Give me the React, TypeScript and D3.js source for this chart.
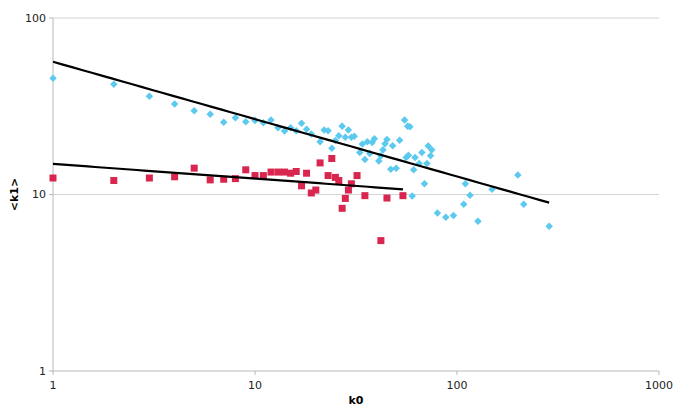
import React from "react";
import * as d3 from "d3";

const W = 685;
const H = 420;

// cyan diamonds: k0, <k1>
const cyanK0 = [1, 2, 3, 4, 5, 6, 7, 8, 9, 10, 11, 12, 13, 14, 15, 16, 17, 18, 19, 21, 22, 23, 24, 25, 26, 27, 28, 29, 30, 31, 33, 34, 35, 36, 37, 38, 39, 41, 42, 43, 44, 45, 47, 48, 50, 52, 55, 56, 57, 57.5, 58.5, 60, 61, 62, 65, 67, 69, 71, 72, 74, 75, 80, 88, 96, 108, 110, 116, 127, 149, 200, 214, 286];
const cyanK1 = [45.5, 42.1, 36.0, 32.6, 29.8, 28.5, 25.7, 27.2, 25.8, 26.3, 25.5, 26.4, 23.9, 22.9, 23.9, 23.0, 25.3, 23.4, 22.0, 19.9, 23.2, 23.0, 18.3, 20.2, 21.5, 24.4, 21.1, 23.2, 21.1, 21.4, 17.3, 19.3, 15.8, 19.9, 17.1, 19.7, 20.7, 15.5, 16.6, 17.9, 19.4, 20.5, 13.9, 18.9, 14.1, 20.3, 26.4, 16.2, 24.4, 16.7, 24.2, 9.8, 13.8, 16.2, 15.0, 17.3, 11.5, 15.0, 18.8, 16.6, 17.9, 7.86, 7.43, 7.6, 8.8, 11.5, 9.9, 7.05, 10.7, 12.9, 8.8, 6.6];

// red squares: k0, <k1>
const redK0 = [1, 2, 3, 4, 5, 6, 7, 8, 9, 10, 11, 12, 13, 14, 15, 16, 17, 18, 19, 20, 21, 23, 24, 25, 26, 27, 28, 29, 30, 32, 35, 42, 45, 54];
const redK1 = [12.4, 12.0, 12.4, 12.6, 14.1, 12.1, 12.2, 12.3, 13.8, 12.8, 12.8, 13.4, 13.4, 13.4, 13.2, 13.5, 11.2, 13.2, 10.2, 10.6, 15.1, 12.8, 16.0, 12.5, 12.0, 8.35, 9.5, 10.6, 11.5, 12.8, 9.85, 5.48, 9.55, 9.85];

// power trend lines: [coefficient, exponent, k0 start, k0 end]
const cyanTrend = [56.5, -0.325, 1, 286];
const redTrend = [14.9, -0.083, 1, 54];

const xTicks = [1, 10, 100, 1000];
const yTicks = [1, 10, 100];

const CYAN = "#5cc9ef";
const RED = "#d8264f";

export default function App() {
  const left = 53, right = 659, top = 18, bottom = 371;
  const x = d3.scaleLog().domain([1, 1000]).range([left, right]);
  const y = d3.scaleLog().domain([1, 100]).range([bottom, top]);
  const font = "DejaVu Sans, Verdana, sans-serif";

  const trendPath = (t: number[]) => {
    const [a, b, x0, x1] = t;
    const pts: [number, number][] = d3.range(0, 51).map((i) => {
      const k = x0 * Math.pow(x1 / x0, i / 50);
      return [x(k), y(a * Math.pow(k, b))];
    });
    return d3.line()(pts) || "";
  };

  const diamond = d3.symbol().type(d3.symbolDiamond2).size(36)() || "";

  return (
    <svg width={W} height={H} style={{ display: "block", position: "absolute", left: 0, top: 0 }} fontFamily={font}>
      <rect x={0} y={0} width={W} height={H} fill="#fff" />
      {yTicks.filter((t) => t !== 1).map((t) => (
        <line key={"g" + t} x1={left} x2={right} y1={y(t)} y2={y(t)} stroke="#d4d4d4" strokeWidth={1} />
      ))}
      <line x1={left} x2={left} y1={top} y2={bottom} stroke="#b8b8b8" strokeWidth={1} />
      <line x1={left} x2={right} y1={bottom} y2={bottom} stroke="#b8b8b8" strokeWidth={1} />
      {yTicks.map((t) => (
        <g key={"y" + t}>
          <line x1={left - 4} x2={left} y1={y(t)} y2={y(t)} stroke="#b8b8b8" />
          <text x={left - 7} y={y(t)} dy="0.35em" textAnchor="end" fontSize={11} fill="#222">{t}</text>
        </g>
      ))}
      {xTicks.map((t) => (
        <g key={"x" + t}>
          <line x1={x(t)} x2={x(t)} y1={bottom} y2={bottom + 4} stroke="#b8b8b8" />
          <text x={x(t)} y={bottom + 18} textAnchor="middle" fontSize={11} fill="#222">{t}</text>
        </g>
      ))}
      <text x={(left + right) / 2} y={404} textAnchor="middle" fontSize={11} fontWeight="bold" fill="#000">k0</text>
      <text transform={`translate(18, ${(top + bottom) / 2}) rotate(-90)`} textAnchor="middle" fontSize={11} fontWeight="bold" fill="#000">&lt;k1&gt;</text>
      {cyanK0.map((k, i) => (
        <path key={"c" + i} d={diamond} transform={`translate(${x(k)}, ${y(cyanK1[i])})`} fill={CYAN} />
      ))}
      {redK0.map((k, i) => (
        <rect key={"r" + i} x={x(k) - 3.5} y={y(redK1[i]) - 3.5} width={7} height={7} fill={RED} />
      ))}
      <path d={trendPath(cyanTrend)} fill="none" stroke="#000" strokeWidth={2.2} />
      <path d={trendPath(redTrend)} fill="none" stroke="#000" strokeWidth={2.2} />
    </svg>
  );
}
